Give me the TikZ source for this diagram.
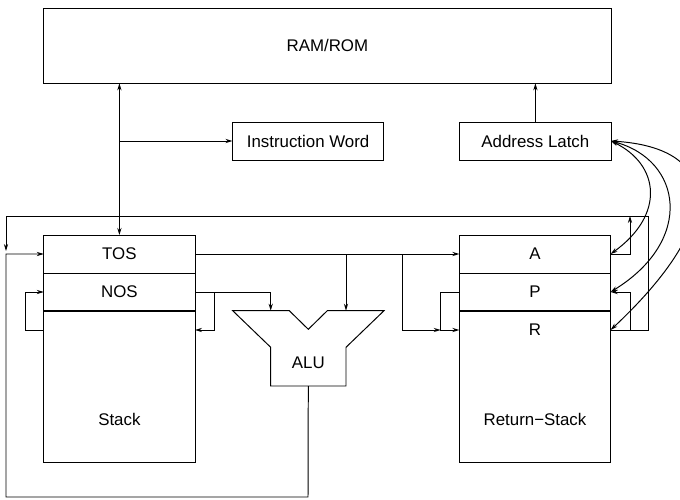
\documentclass[tikz,border=0pt]{standalone}
\usepackage{fontspec}
\setmainfont{Liberation Sans}
\usetikzlibrary{arrows.meta}

\begin{document}
\begin{tikzpicture}[x=0.025cm,y=-0.025cm,
  line width=0.7pt, >={Stealth[length=5pt,width=3pt]},
  font=\fontsize{12}{14}\selectfont,
  box/.style={draw, outer sep=0pt, minimum width=3.78cm, minimum height=0.95cm},
  tall/.style={draw, outer sep=0pt, minimum width=3.78cm, minimum height=3.775cm}]
  \useasboundingbox[fill=white] (0,0) rectangle (680,500);
  % memory side
  \node[draw, outer sep=0pt, minimum width=14.18cm, minimum height=1.875cm] (ram) at (327.4,45.8) {RAM/ROM};
  \node[box] (iw) at (308.1,141) {Instruction Word};
  \node[box] (al) at (535.4,141) {Address Latch};
  % data stack
  \node[box] (tos) at (119.4,254) {TOS};
  \node[box] (nos) at (119.4,292) {NOS};
  \node[tall] (stk) at (119.4,386.5) {};
  \node (stklbl) at (119.4,419) {Stack};
  % return stack
  \node[box] (A) at (535,254) {A};
  \node[box] (P) at (535,292) {P};
  \node[tall] (rstk) at (535,386.5) {};
  \node (R) at (535,330) {R};
  \node (rstklbl) at (535,419) {Return−Stack};
  % alu
  \coordinate (aluL) at (270.7,310.7);
  \coordinate (aluR) at (346,310.7);
  \coordinate (aluB) at (308.3,386);
  \draw (232.7,310.7) -- (289.3,310.7) -- (308.3,329.3) -- (327.3,310.7) -- (384,310.7)
    -- (346,347.3) -- (346,386) -- (270.7,386) -- (270.7,347.3) -- cycle;
  \node (alu) at (308.3,362.7) {ALU};
  % taps and corners
  \coordinate (rIn) at (R -| rstk.east);
  \coordinate (rInL) at (R -| rstk.west);
  \coordinate (sIn) at (R -| stk.east);
  \coordinate (sOut) at (R -| stk.west);
  \coordinate (tapR) at (402.7,254);
  \coordinate (pj) at (440.7,330);
  \coordinate (tapN) at (214,292);
  \coordinate (fbL) at (6,254);

  \draw[<->] (tos.north) -- (tos.north |- ram.south);
  \draw[->] (tos.north |- iw.west) -- (iw.west);
  \draw[->] (al.north) -- (al.north |- ram.south);
  \draw[<->] (al.east) .. controls (660,165) and (665,215) .. (A.east);
  \draw[<->] (al.east) .. controls (682,160) and (695,240) .. (P.east);
  \draw[<->] (al.east) .. controls (722,148) and (726,222) .. (rIn);

  \draw[->] (tos.east) -- (A.west);
  \draw[->] (tos.east -| aluR) -- (aluR);
  \draw[->] (tapR) |- (pj);
  \draw[->] (P.west) -| (pj) -- (rInL);

  \draw[->] (nos.east) -| (aluL);
  \draw[->] (tapN) |- (sIn);
  \draw[->] (sOut) -| (25,292) -- (nos.west);

  \draw[->] (aluB) -- (308,497) -| (fbL) -- (tos.west);
  \draw[->] (rIn) -| (648.7,216) -| (6,251);
  \draw[->] (A.east) -| (630,216);
  \draw[->] (630,330) |- (P.east);
\end{tikzpicture}
\end{document}
